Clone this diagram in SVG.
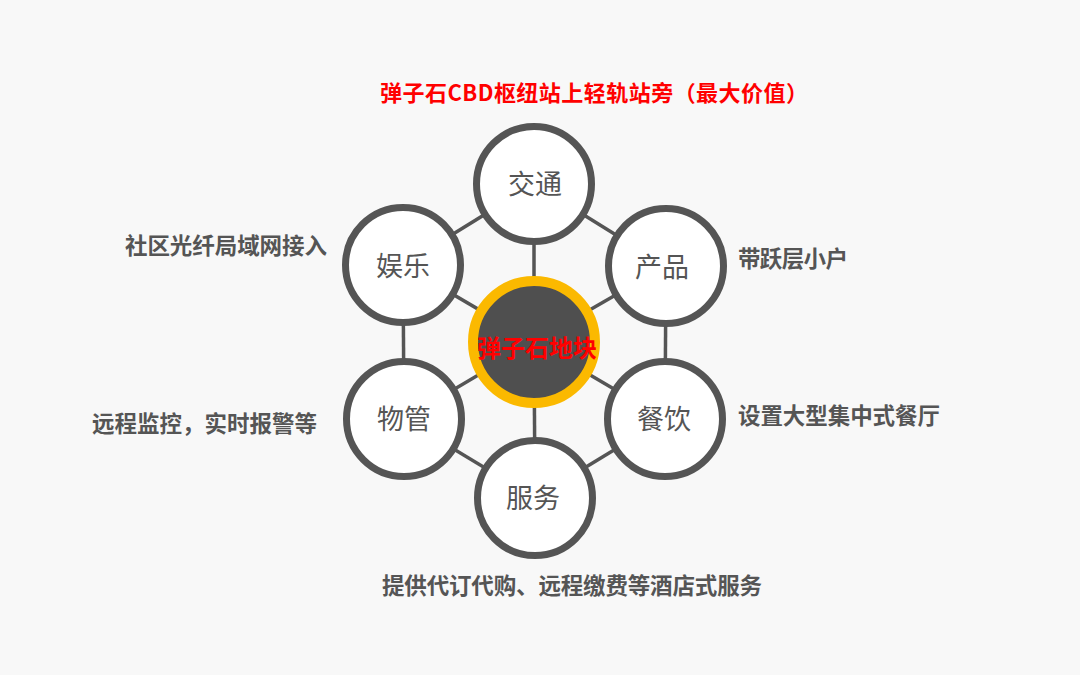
<svg xmlns="http://www.w3.org/2000/svg" width="1080" height="675" viewBox="0 0 1080 675">
<style>
.bg{fill:#f8f8f8}
.conn line{stroke:#555;stroke-width:3.5}
.node circle{fill:#fff;stroke:#555;stroke-width:7}
.lbl{font-family:"Noto Sans CJK SC","Noto Sans",sans-serif;font-size:27px;fill:#555;text-anchor:middle}
.side{font-family:"Noto Sans CJK SC","Noto Sans",sans-serif;font-size:22.5px;font-weight:bold;fill:#555}
.title{font-family:"Noto Sans CJK SC","Noto Sans",sans-serif;font-size:22px;font-weight:bold;fill:#f00}
</style>
<rect class="bg" width="1080" height="675"/>
<text class="title" x="380" y="101" textLength="428" lengthAdjust="spacing">弹子石CBD枢纽站上轻轨站旁（最大价值）</text>
<g class="conn">
<line x1="534" y1="342" x2="534" y2="184"/>
<line x1="534" y1="342" x2="666" y2="266"/>
<line x1="534" y1="342" x2="665" y2="419"/>
<line x1="534" y1="342" x2="535" y2="498"/>
<line x1="534" y1="342" x2="404" y2="419"/>
<line x1="534" y1="342" x2="403" y2="265"/>
<line x1="534" y1="184" x2="666" y2="266"/>
<line x1="666" y1="266" x2="665" y2="419"/>
<line x1="665" y1="419" x2="535" y2="498"/>
<line x1="535" y1="498" x2="404" y2="419"/>
<line x1="404" y1="419" x2="403" y2="265"/>
<line x1="403" y1="265" x2="534" y2="184"/>
</g>
<g id="node-jiaotong" class="node"><circle cx="534" cy="184" r="57.5"/><text class="lbl" x="535" y="194">交通</text></g>
<g id="node-chanpin" class="node"><circle cx="666" cy="266" r="57.5"/><text class="lbl" x="662" y="277">产品</text></g>
<g id="node-canyin" class="node"><circle cx="665" cy="419" r="57.5"/><text class="lbl" x="664" y="429">餐饮</text></g>
<g id="node-fuwu" class="node"><circle cx="535" cy="498" r="57.5"/><text class="lbl" x="533" y="508">服务</text></g>
<g id="node-wuguan" class="node"><circle cx="404" cy="419" r="57.5"/><text class="lbl" x="404" y="429">物管</text></g>
<g id="node-yule" class="node"><circle cx="403" cy="265" r="57.5"/><text class="lbl" x="403" y="276">娱乐</text></g>
<g id="node-center"><circle cx="534" cy="342" r="61" fill="#4f4f4f" stroke="#fbb900" stroke-width="10"/><text x="537" y="357" text-anchor="middle" style="font-family:'Noto Sans CJK SC','Noto Sans',sans-serif;font-size:24px;font-weight:bold;fill:#f00">弹子石地块</text></g>
<text class="side" x="125" y="254" textLength="202" lengthAdjust="spacing">社区光纤局域网接入</text>
<text class="side" x="92" y="432" textLength="225" lengthAdjust="spacing">远程监控，实时报警等</text>
<text class="side" x="738" y="267" textLength="110" lengthAdjust="spacing">带跃层小户</text>
<text class="side" x="738" y="424" textLength="202" lengthAdjust="spacing">设置大型集中式餐厅</text>
<text class="side" x="382" y="594" textLength="380" lengthAdjust="spacing">提供代订代购、远程缴费等酒店式服务</text>
</svg>
